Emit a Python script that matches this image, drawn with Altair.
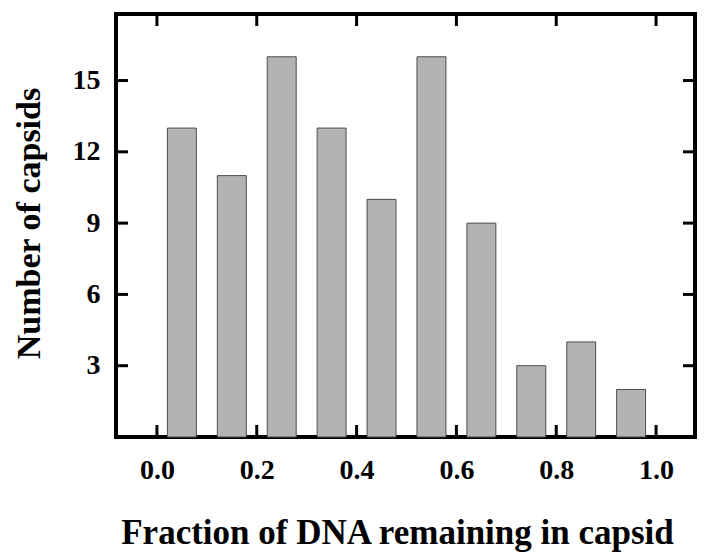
import altair as alt
import pandas as pd

# Histogram data
bin_centers = [0.05, 0.15, 0.25, 0.35, 0.45, 0.55, 0.65, 0.75, 0.85, 0.95]
counts = [13, 11, 16, 13, 10, 16, 9, 3, 4, 2]
x_ticks = [0.0, 0.2, 0.4, 0.6, 0.8, 1.0]
y_ticks = [3, 6, 9, 12, 15]

half_w = 0.029
bars_df = pd.DataFrame({
    "center": bin_centers,
    "count": counts,
})
bars_df["lo"] = bars_df["center"] - half_w
bars_df["hi"] = bars_df["center"] + half_w

W, H = 579, 423
xscale = alt.Scale(domain=[-0.082, 1.078], nice=False, zero=False)
yscale = alt.Scale(domain=[0, 17.8], nice=False, zero=True)

FONT = "Liberation Serif"

x_axis = alt.Axis(values=x_ticks, format=".1f", title="Fraction of DNA remaining in capsid",
                  labelPadding=19, titleX=281, titleY=106, titleBaseline="alphabetic",
                  titleAlign="center", titleFontSize=35)
y_axis = alt.Axis(values=y_ticks, title="Number of capsids", labelPadding=16,
                  titleX=-77, titleY=209, titleAngle=-90, titleBaseline="alphabetic",
                  titleAlign="center", titleFontSize=34)

bars = alt.Chart(bars_df).mark_bar(
    color="#b3b3b3", stroke="#4d4d4d", strokeWidth=1
).encode(
    x=alt.X("lo:Q", scale=xscale, axis=x_axis),
    x2="hi:Q",
    y=alt.Y("count:Q", scale=yscale, axis=y_axis),
    y2=alt.datum(0),
)

xt = pd.DataFrame({"t": x_ticks})
yt = pd.DataFrame({"t": y_ticks})
TL = 12
tick_style = dict(color="black", strokeWidth=3)

x_bottom = alt.Chart(xt).mark_rule(**tick_style).encode(
    x=alt.X("t:Q", scale=xscale, axis=x_axis), y=alt.value(H), y2=alt.value(H - TL))
x_top = alt.Chart(xt).mark_rule(**tick_style).encode(
    x=alt.X("t:Q", scale=xscale, axis=x_axis), y=alt.value(0), y2=alt.value(TL))
y_left = alt.Chart(yt).mark_rule(**tick_style).encode(
    y=alt.Y("t:Q", scale=yscale, axis=y_axis), x=alt.value(0), x2=alt.value(TL))
y_right = alt.Chart(yt).mark_rule(**tick_style).encode(
    y=alt.Y("t:Q", scale=yscale, axis=y_axis), x=alt.value(W), x2=alt.value(W - TL))

chart = alt.layer(bars, x_bottom, x_top, y_left, y_right).properties(
    width=W, height=H,
    autosize=alt.AutoSizeParams(type="none"),
    padding={"left": 108, "top": 6, "right": 6, "bottom": 118},
).configure_view(
    stroke="black", strokeWidth=4
).configure_axis(
    ticks=False, domain=False, grid=False,
    labelFont=FONT, labelFontWeight="bold", labelFontSize=28, labelColor="black",
    titleFont=FONT, titleFontWeight="bold", titleColor="black",
)

chart.save("out.html", embed_options={"renderer": "svg", "actions": False})
